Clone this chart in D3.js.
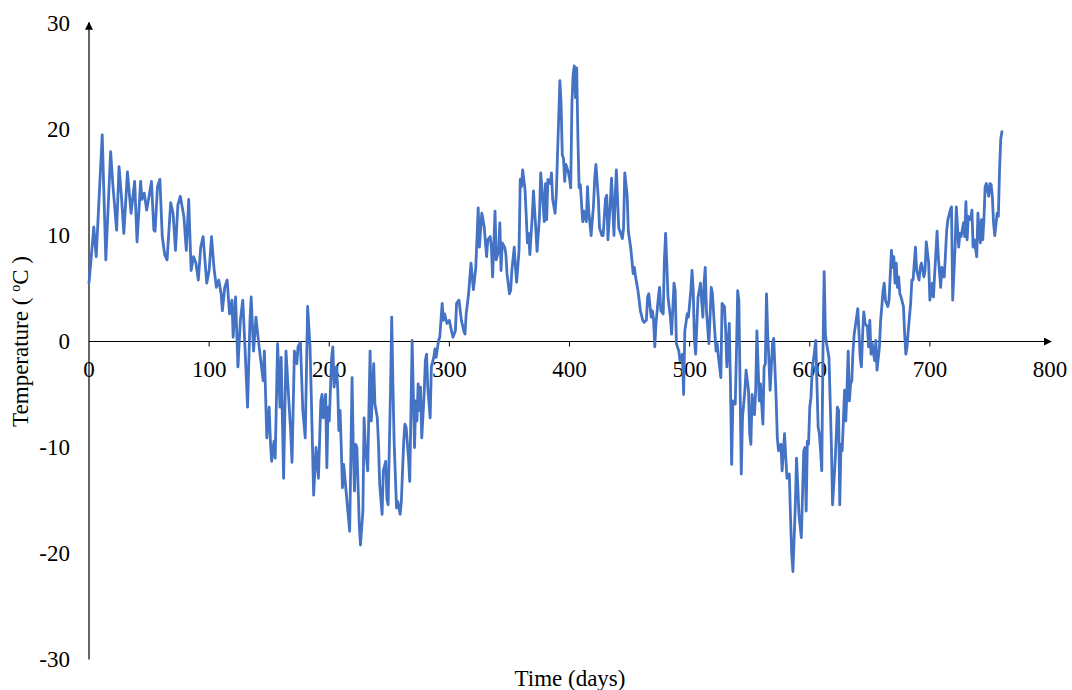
<!DOCTYPE html>
<html>
<head>
<meta charset="utf-8">
<script src="https://cdn.jsdelivr.net/npm/d3@7/dist/d3.min.js"></script>
<style>
  html, body { margin: 0; padding: 0; background: #fff; }
  svg { display: block; font-family: "Liberation Serif", "Times New Roman", serif; }
</style>
</head>
<body>
<svg id="chart" width="1072" height="690"></svg>
<script>
// Daily air temperature record (day number, °C)
const days = [
  0,4,6,11,14,18,20,23,25,27,29,32,35,38,40,43,44,46,48,50,52,54,55,57,59,61,63,
  65,68,70,72,74,76,79,81,83,85,87,89,91,93,95,98,100,102,104,106,108,110,111,113,115,117,119,120,122,124,126,
  128,130,132,134,135,137,139,141,143,145,146,148,150,151,152,154,155,157,159,160,162,164,166,168,169,171,173,174,176,178,180,182,184,185,187,189,191,
  193,194,195,197,198,199,200,202,203,204,206,207,208,209,210,211,212,214,215,217,219,220,221,222,223,225,226,228,229,230,232,234,235,237,238,240,241,242,244,245,247,248,249,251,252,253,254,256,
  257,259,260,262,263,264,266,267,269,271,272,273,274,275,276,277,279,280,281,282,284,285,287,288,289,291,292,294,295,296,298,300,301,303,305,306,308,310,312,313,314,316,318,320,
  322,324,325,327,328,329,331,332,334,335,336,338,339,341,342,343,344,346,347,348,350,351,352,354,355,356,358,359,360,361,363,364,365,366,367,369,370,372,373,375,376,377,379,380,381,382,384,385,386,388,
  389,390,392,393,394,395,396,397,399,400,401,402,403,404,405,406,407,408,409,411,412,414,415,416,418,420,421,422,424,425,427,428,430,431,432,434,435,437,438,439,441,442,444,445,446,448,449,451,
  453,454,455,457,458,459,461,462,464,465,466,468,469,470,471,472,474,475,476,478,479,480,481,482,484,485,487,488,489,491,492,494,495,496,498,499,501,502,503,504,505,507,508,509,511,512,513,514,516,517,
  518,519,520,522,523,524,526,527,529,530,531,533,534,535,536,538,539,540,541,543,544,546,547,549,550,551,552,554,555,556,558,559,561,562,563,564,565,566,567,569,570,572,573,574,576,577,579,581,
  583,584,585,586,588,589,590,591,593,595,596,597,598,599,600,601,602,604,605,606,607,608,609,610,611,612,613,614,616,617,618,619,621,622,623,624,625,626,627,629,630,631,632,633,634,635,636,637,639,640,642,643,644,645,646,648,
  649,650,651,652,654,655,656,658,659,660,661,662,663,665,666,668,669,670,671,672,673,674,675,676,678,679,680,681,682,684,685,686,688,689,691,692,693,695,696,697,699,700,702,703,704,706,707,709,710,711,
  712,714,715,717,718,719,721,722,724,725,726,728,729,730,731,732,734,735,736,737,739,740,741,742,743,744,745,746,747,749,750,751,752,753,754,756,757,758,759,760
];
const temps = [
  5.5,10.8,8.0,19.5,7.7,17.9,14.6,10.5,16.5,13.7,10.2,16.0,12.1,15.1,9.4,15.1,13.4,14.0,12.4,13.7,15.1,10.5,10.4,14.6,15.3,9.9,8.2,
  7.7,13.1,12.1,8.6,12.9,13.7,11.8,8.6,13.4,6.7,8.0,7.4,5.8,8.9,9.9,5.5,6.7,9.9,7.0,5.1,5.8,4.5,2.9,5.1,5.8,2.6,3.9,0.4,4.2,-2.4,2.0,
  3.9,-0.9,-6.2,2.0,4.2,-0.9,2.3,0.1,-1.8,-3.7,-0.9,-9.1,-6.2,-9.4,-11.3,-9.4,-11.0,-0.2,-6.2,-1.5,-12.9,-0.9,-4.9,-8.7,-11.4,-0.9,-2.1,-0.5,-0.1,-6.5,-9.1,3.3,-0.5,-4.9,-14.5,-10.0,-12.9,
  -5.6,-5.0,-7.2,-5.0,-11.9,-6.2,-7.5,-1.5,-0.5,-4.3,-2.4,-4.3,-8.4,-6.5,-10.0,-13.8,-11.6,-14.1,-15.4,-17.9,-3.4,-10.0,-14.1,-9.7,-10.0,-17.3,-19.2,-16.0,-7.2,-9.7,-12.2,-0.9,-7.5,-2.1,-5.9,-7.2,-9.7,-13.5,-16.3,-12.2,-11.3,-14.8,-15.4,-4.6,2.3,-4.0,-9.4,-15.7,
  -15.1,-16.3,-15.1,-9.4,-7.8,-8.1,-11.0,-13.2,0.1,-10.0,-5.6,-7.5,-4.0,-6.5,-4.3,-9.1,-5.0,-1.8,-1.2,-4.3,-7.2,-2.4,-1.5,-0.7,-1.5,0.1,0.4,3.6,2.0,2.6,1.7,2.0,1.4,0.4,1.0,3.6,3.9,2.0,1.0,0.7,2.6,4.5,7.4,4.9,
  7.0,12.6,8.9,12.1,11.5,10.8,8.0,9.6,9.9,8.9,6.1,12.3,7.7,8.6,11.2,6.7,9.3,8.9,8.3,6.4,4.5,4.8,6.7,8.9,7.0,5.6,8.6,15.3,14.6,16.2,14.3,11.8,9.3,10.2,8.2,11.8,14.2,10.5,8.5,11.8,15.9,14.6,11.3,14.9,11.5,15.3,14.9,15.9,13.4,12.1,
  13.8,17.6,24.6,22.4,17.6,17.3,15.1,16.7,16.0,15.4,14.5,22.4,25.2,26.0,23.0,25.8,19.2,14.5,14.8,11.3,12.3,11.3,14.6,12.3,10.0,12.9,15.4,16.7,13.5,10.7,10.0,10.0,13.5,13.8,9.6,13.2,15.4,10.0,13.5,16.2,10.7,10.4,9.7,10.7,15.9,13.8,10.4,8.8,
  6.4,7.0,6.1,4.8,3.9,2.9,2.0,1.8,2.0,4.2,4.5,2.3,2.9,2.0,-0.5,1.7,4.2,5.1,2.9,2.6,7.7,10.2,7.4,4.2,2.3,0.7,5.5,4.8,-0.2,-0.9,-1.8,-1.2,-5.0,1.0,2.6,2.3,4.8,6.7,4.8,0.1,-1.2,4.2,4.8,5.5,2.3,5.5,7.0,2.9,-0.2,2.3,
  5.1,4.5,2.6,-0.9,-0.2,-1.5,-3.4,3.6,3.3,1.0,-2.4,1.7,-4.0,-11.6,-5.6,-5.9,-0.9,4.8,3.9,-12.5,-7.2,-4.6,-2.7,-4.6,-8.7,-9.7,-5.0,-6.9,-4.6,1.0,-5.6,-4.0,-7.8,-2.4,-2.1,4.5,0.7,-1.8,-4.6,-0.2,0.3,-5.3,-9.1,-10.3,-9.7,-12.2,-8.7,-12.9,
  -12.5,-16.6,-20.1,-21.7,-15.4,-11.0,-13.5,-16.3,-18.5,-10.3,-10.0,-16.0,-9.4,-9.7,-6.2,-5.3,-2.7,-0.9,0.1,-4.0,-8.1,-8.7,-10.3,-12.2,-0.9,6.6,0.7,-0.2,-1.5,-5.6,-9.7,-15.4,-11.6,-9.1,-6.2,-6.5,-15.4,-9.7,-10.3,-4.6,-7.5,-4.6,-0.9,-5.6,-4.0,-3.7,-0.9,0.7,2.3,3.1,-1.5,-2.4,0.7,2.8,1.7,1.4,
  -0.5,2.0,-1.2,-0.2,-1.8,0.1,-2.7,-0.5,2.0,3.3,4.8,5.5,3.9,3.3,3.9,8.6,7.0,8.0,5.5,7.4,5.1,6.1,4.5,4.2,3.3,0.7,-1.2,-0.5,1.0,3.6,5.8,5.8,8.9,6.7,5.8,7.0,7.4,6.1,6.7,9.4,7.4,3.9,5.5,4.2,6.4,10.4,8.0,5.1,7.0,6.1,
  6.1,10.5,11.5,12.4,12.7,3.9,8.9,12.7,8.9,10.2,9.9,11.2,9.9,13.2,9.6,11.8,11.5,12.4,8.9,9.6,8.0,12.1,10.5,9.3,11.5,9.6,11.5,14.6,14.9,13.7,14.9,14.8,13.7,11.2,10.0,12.1,11.8,16.2,19.1,19.8
];

const xTicks = [0, 100, 200, 300, 400, 500, 600, 700, 800];
const yTicks = [-30, -20, -10, 0, 10, 20, 30];

const svg = d3.select("#chart");

const x = d3.scaleLinear().domain([0, 800]).range([89, 1050]);
const y = d3.scaleLinear().domain([-30, 30]).range([659.5, 23.5]);

const axisColor = "#000";
const fontSize = 23;

// Arrowhead marker for the axis ends
svg.append("defs").append("marker")
  .attr("id", "arrow")
  .attr("viewBox", "0 0 10 10")
  .attr("refX", 9).attr("refY", 5)
  .attr("markerWidth", 8).attr("markerHeight", 8)
  .attr("markerUnits", "userSpaceOnUse")
  .attr("orient", "auto")
  .append("path")
  .attr("d", "M0,0 L10,5 L0,10 z")
  .attr("fill", axisColor);

// Vertical axis line (arrow at the top)
svg.append("line")
  .attr("x1", x(0)).attr("x2", x(0))
  .attr("y1", y(-30)).attr("y2", y(30) - 1)
  .attr("stroke", axisColor).attr("stroke-width", 1.2)
  .attr("marker-end", "url(#arrow)");

// Horizontal axis through zero (arrow at the right)
svg.append("line")
  .attr("x1", x(0)).attr("x2", x(800) + 1)
  .attr("y1", y(0)).attr("y2", y(0))
  .attr("stroke", axisColor).attr("stroke-width", 1.2)
  .attr("marker-end", "url(#arrow)");

// X tick marks and labels
const xAxisG = svg.append("g");
xAxisG.selectAll("line.tick")
  .data(xTicks.filter(d => d > 0 && d < 800))
  .join("line")
  .attr("class", "tick")
  .attr("x1", d => x(d)).attr("x2", d => x(d))
  .attr("y1", y(0)).attr("y2", y(0) + 5)
  .attr("stroke", axisColor).attr("stroke-width", 1);
xAxisG.selectAll("text")
  .data(xTicks)
  .join("text")
  .attr("x", d => x(d))
  .attr("y", y(0) + 35)
  .attr("text-anchor", "middle")
  .attr("font-size", fontSize)
  .attr("fill", "#000")
  .text(d => d);

// Y tick labels
svg.append("g").selectAll("text")
  .data(yTicks)
  .join("text")
  .attr("x", 70)
  .attr("y", d => y(d))
  .attr("dy", "0.33em")
  .attr("text-anchor", "end")
  .attr("font-size", fontSize)
  .attr("fill", "#000")
  .text(d => d);

// Temperature series
const line = d3.line()
  .x((d, i) => x(days[i]))
  .y(d => y(d));

svg.append("path")
  .datum(temps)
  .attr("d", line)
  .attr("fill", "none")
  .attr("stroke", "#4472C4")
  .attr("stroke-width", 2.8)
  .attr("stroke-linejoin", "round")
  .attr("stroke-linecap", "round");

// Axis titles
const yTitle = svg.append("text")
  .attr("transform", `translate(28, ${y(0)}) rotate(-90)`)
  .attr("text-anchor", "middle")
  .attr("font-size", fontSize)
  .attr("fill", "#000");
yTitle.append("tspan").text("Temperature ( ");
yTitle.append("tspan").attr("font-size", 14).attr("dy", -8).text("o");
yTitle.append("tspan").attr("dy", 8).text("C )");

svg.append("text")
  .attr("x", 570)
  .attr("y", 686)
  .attr("text-anchor", "middle")
  .attr("font-size", fontSize)
  .attr("fill", "#000")
  .text("Time (days)");
</script>
</body>
</html>
